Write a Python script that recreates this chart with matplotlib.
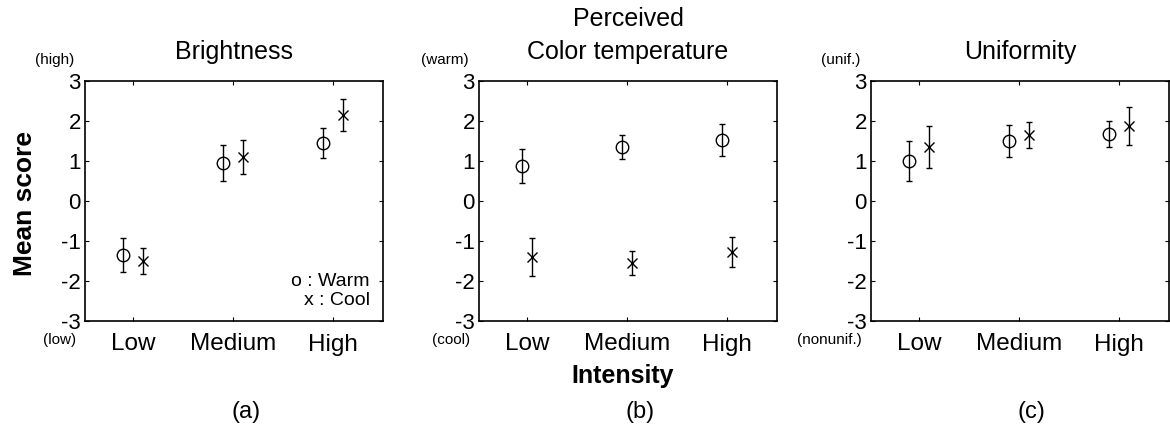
import matplotlib.pyplot as plt
import numpy as np

plt.rcParams['font.family'] = ['Liberation Sans', 'DejaVu Sans']
plt.rcParams['axes.unicode_minus'] = False

levels = ['Low', 'Medium', 'High']
titles = ['Brightness', 'Perceived\nColor temperature', 'Uniformity']
top_notes = ['(high)', '(warm)', '(unif.)']
bottom_notes = ['(low)', '(cool)', '(nonunif.)']
panel_tags = ['(a)', '(b)', '(c)']

# mean scores and error half-widths, per panel: [Low, Medium, High]
warm_mean = [[-1.35, 0.95, 1.45], [0.87, 1.35, 1.52], [1.0, 1.5, 1.67]]
warm_err = [[0.42, 0.45, 0.37], [0.43, 0.30, 0.40], [0.50, 0.40, 0.33]]
cool_mean = [[-1.5, 1.1, 2.15], [-1.4, -1.55, -1.27], [1.35, 1.65, 1.87]]
cool_err = [[0.32, 0.42, 0.40], [0.47, 0.30, 0.38], [0.53, 0.33, 0.48]]
offsets = [0.1, 0.05, 0.1]

fig = plt.figure(figsize=(11.7, 4.28), dpi=100)
lefts = [0.0726, 0.4094, 0.7444]
x = np.arange(1, 4)

for i in range(3):
    ax = fig.add_axes([lefts[i], 0.25, 0.2547, 0.5607])
    d = offsets[i]
    ax.errorbar(x - d, warm_mean[i], yerr=warm_err[i], fmt='o', mfc='none', mec='k',
                ms=9, ecolor='k', elinewidth=1, capsize=2, mew=1)
    ax.errorbar(x + d, cool_mean[i], yerr=cool_err[i], fmt='x', mec='k',
                ms=7, ecolor='k', elinewidth=1, capsize=2, mew=1)
    ax.set_xlim(0.52, 3.5)
    ax.set_ylim(-3, 3)
    ax.set_yticks(range(-3, 4))
    ax.set_xticks(x)
    ax.set_xticklabels(levels, fontsize=17.5)
    ax.tick_params(axis='both', direction='in', top=True, right=True, length=3, width=0.8)
    ax.tick_params(axis='y', labelsize=16, pad=3)
    ax.tick_params(axis='x', pad=9)
    for s in ax.spines.values():
        s.set_linewidth(1.2)
    ax.set_title(titles[i], fontsize=18, pad=16, linespacing=1.45)
    ax.text(-0.035, 1.088, top_notes[i], transform=ax.transAxes, fontsize=11, ha='right', va='center')
    ax.text(-0.03, -0.079, bottom_notes[i], transform=ax.transAxes, fontsize=11, ha='right', va='center')
    ax.text(0.54, -0.379, panel_tags[i], transform=ax.transAxes, fontsize=17, ha='center', va='center')
    if i == 0:
        ax.text(0.956, 0.165, 'o : Warm', transform=ax.transAxes, fontsize=14, ha='right', va='center')
        ax.text(0.956, 0.085, 'x : Cool', transform=ax.transAxes, fontsize=14, ha='right', va='center')

fig.text(25 / 1170, 1 - 204 / 428, 'Mean score', rotation=90, fontsize=19, fontweight='bold',
         ha='center', va='center')
fig.text(623 / 1170, 1 - 376 / 428, 'Intensity', fontsize=18, fontweight='bold',
         ha='center', va='center')

fig.savefig('out.png', dpi=100)
